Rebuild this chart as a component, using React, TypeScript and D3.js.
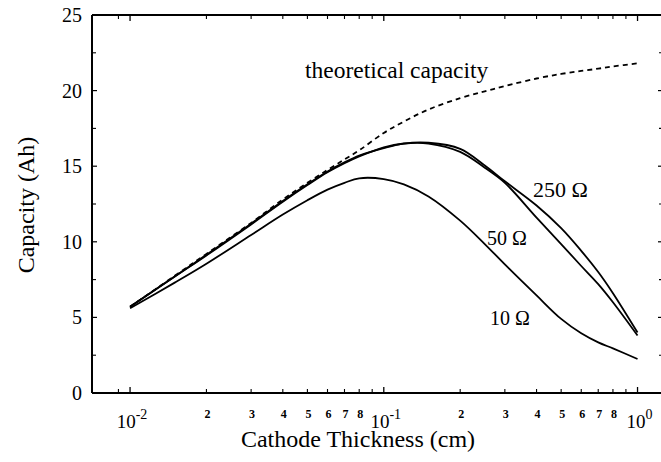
import * as d3 from "d3";
import React, { useEffect, useRef } from "react";

// cathode thickness (cm), shared by every curve
const thickness = [0.01, 0.015, 0.02, 0.03, 0.04, 0.05, 0.06, 0.07, 0.08, 0.1, 0.12, 0.15, 0.2, 0.25, 0.3, 0.4, 0.5, 0.6, 0.7, 0.8, 1.0];
// capacity (Ah)
const theoretical = [5.7, 7.75, 9.2, 11.25, 12.8, 13.9, 14.75, 15.45, 16.05, 17.2, 17.95, 18.75, 19.5, 19.95, 20.3, 20.8, 21.1, 21.3, 21.45, 21.6, 21.8];
const ohm250 = [5.7, 7.7, 9.15, 11.2, 12.7, 13.8, 14.65, 15.25, 15.7, 16.2, 16.5, 16.55, 16.15, 15.05, 14.0, 12.4, 10.9, 9.4, 8.0, 6.6, 4.0];
const ohm50 = [5.7, 7.7, 9.1, 11.15, 12.65, 13.75, 14.6, 15.2, 15.65, 16.25, 16.5, 16.5, 15.95, 14.9, 13.9, 11.6, 9.85, 8.4, 7.2, 6.0, 3.8];
const ohm10 = [5.6, 7.3, 8.55, 10.45, 11.8, 12.75, 13.45, 13.9, 14.2, 14.15, 13.8, 13.0, 11.4, 9.85, 8.5, 6.45, 4.9, 3.95, 3.35, 2.95, 2.25];

const yTicks = [0, 5, 10, 15, 20, 25];
const yMinor = [2.5, 7.5, 12.5, 17.5, 22.5];
const decades = [-2, -1, 0];
const minorDigits = [2, 3, 4, 5, 6, 7, 8];

const App: React.FC = () => {
  const ref = useRef<SVGSVGElement>(null);

  useEffect(() => {
    const width = 661;
    const height = 462;
    const left = 92;
    const right = 663;
    const top = 15;
    const bottom = 393;
    const serif = "'Liberation Serif', 'DejaVu Serif', serif";

    const svg = d3.select(ref.current);
    svg.selectAll("*").remove();
    svg.attr("width", width).attr("height", height);

    const x = d3.scaleLog().domain([0.00708, 1.26]).range([left, right]);
    const y = d3.scaleLinear().domain([0, 25]).range([bottom, top]);

    // minor tick positions (9e-3 up to 9e-1)
    const xMinor: number[] = [0.009];
    [-2, -1].forEach((e) => {
      for (let k = 2; k <= 9; k++) xMinor.push(k * Math.pow(10, e));
    });

    const frame = svg.append("g").attr("stroke", "#000");

    // frame
    frame.append("line").attr("x1", left).attr("x2", right).attr("y1", bottom).attr("y2", bottom).attr("stroke-width", 2);
    frame.append("line").attr("x1", left).attr("x2", right).attr("y1", top).attr("y2", top).attr("stroke-width", 2);
    frame.append("line").attr("x1", left).attr("x2", left).attr("y1", top).attr("y2", bottom).attr("stroke-width", 2);
    frame.append("line").attr("x1", right).attr("x2", right).attr("y1", top).attr("y2", bottom).attr("stroke-width", 2);

    // x ticks (inward, top and bottom)
    decades.forEach((e) => {
      const px = x(Math.pow(10, e));
      frame.append("line").attr("x1", px).attr("x2", px).attr("y1", bottom).attr("y2", bottom - 6).attr("stroke-width", 1.3);
      frame.append("line").attr("x1", px).attr("x2", px).attr("y1", top).attr("y2", top + 6).attr("stroke-width", 1.3);
    });
    xMinor.forEach((v) => {
      const px = x(v);
      frame.append("line").attr("x1", px).attr("x2", px).attr("y1", bottom).attr("y2", bottom - 4).attr("stroke-width", 1.1);
      frame.append("line").attr("x1", px).attr("x2", px).attr("y1", top).attr("y2", top + 4).attr("stroke-width", 1.1);
    });

    // y ticks (inward, left and right)
    yTicks.forEach((v) => {
      frame.append("line").attr("x1", left).attr("x2", left + 5).attr("y1", y(v)).attr("y2", y(v)).attr("stroke-width", 1.2);
      frame.append("line").attr("x1", right).attr("x2", right - 5).attr("y1", y(v)).attr("y2", y(v)).attr("stroke-width", 1.2);
    });
    yMinor.forEach((v) => {
      frame.append("line").attr("x1", left).attr("x2", left + 4).attr("y1", y(v)).attr("y2", y(v)).attr("stroke-width", 1.1);
      frame.append("line").attr("x1", right).attr("x2", right - 4).attr("y1", y(v)).attr("y2", y(v)).attr("stroke-width", 1.1);
    });

    // y tick labels
    svg.append("g")
      .selectAll("text")
      .data(yTicks)
      .enter()
      .append("text")
      .attr("x", left - 10)
      .attr("y", (d) => y(d) + 7)
      .attr("text-anchor", "end")
      .style("font-family", serif)
      .style("font-size", "20px")
      .text((d) => d);

    // x decade labels with superscripts
    decades.forEach((e) => {
      const t = svg.append("text")
        .attr("x", x(Math.pow(10, e)) + 2)
        .attr("y", 428)
        .attr("text-anchor", "middle")
        .style("font-family", serif)
        .style("font-size", "19px");
      t.append("tspan").text("10");
      t.append("tspan").attr("dy", -9).style("font-size", "14px").text(String(e));
    });

    // x minor digit labels
    [-2, -1].forEach((e) => {
      minorDigits.forEach((k) => {
        svg.append("text")
          .attr("x", x(k * Math.pow(10, e)) + 1)
          .attr("y", 418)
          .attr("text-anchor", "middle")
          .style("font-family", serif)
          .style("font-size", "12px")
          .style("font-weight", "bold")
          .text(k);
      });
    });

    // axis titles
    svg.append("text")
      .attr("x", 358)
      .attr("y", 447)
      .attr("text-anchor", "middle")
      .style("font-family", serif)
      .style("font-size", "24px")
      .text("Cathode Thickness (cm)");

    svg.append("text")
      .attr("transform", "rotate(-90)")
      .attr("x", -205)
      .attr("y", 34)
      .attr("text-anchor", "middle")
      .style("font-family", serif)
      .style("font-size", "24px")
      .text("Capacity (Ah)");

    // curves
    const line = d3.line<number>()
      .x((_, i) => x(thickness[i]))
      .y((d) => y(d))
      .curve(d3.curveCatmullRom.alpha(0.5));

    const solid = [ohm10, ohm50, ohm250];
    solid.forEach((s) => {
      svg.append("path")
        .attr("d", line(s))
        .attr("fill", "none")
        .attr("stroke", "#000")
        .attr("stroke-width", 1.8);
    });

    svg.append("path")
      .attr("d", line(theoretical))
      .attr("fill", "none")
      .attr("stroke", "#000")
      .attr("stroke-width", 1.8)
      .attr("stroke-dasharray", "5,4");

    // annotations
    const notes = [
      { text: "theoretical capacity", x: 305, y: 78, size: 23.5 },
      { text: "250 Ω", x: 533, y: 197, size: 22 },
      { text: "50 Ω", x: 487, y: 245, size: 20 },
      { text: "10 Ω", x: 490, y: 325, size: 20 },
    ];
    notes.forEach((n) => {
      svg.append("text")
        .attr("x", n.x)
        .attr("y", n.y)
        .style("font-family", serif)
        .style("font-size", `${n.size}px`)
        .text(n.text);
    });
  }, []);

  return (
    <div>
      <svg ref={ref} style={{ position: "absolute", left: 0, top: 0, background: "#fff" }}></svg>
    </div>
  );
};

export default App;
